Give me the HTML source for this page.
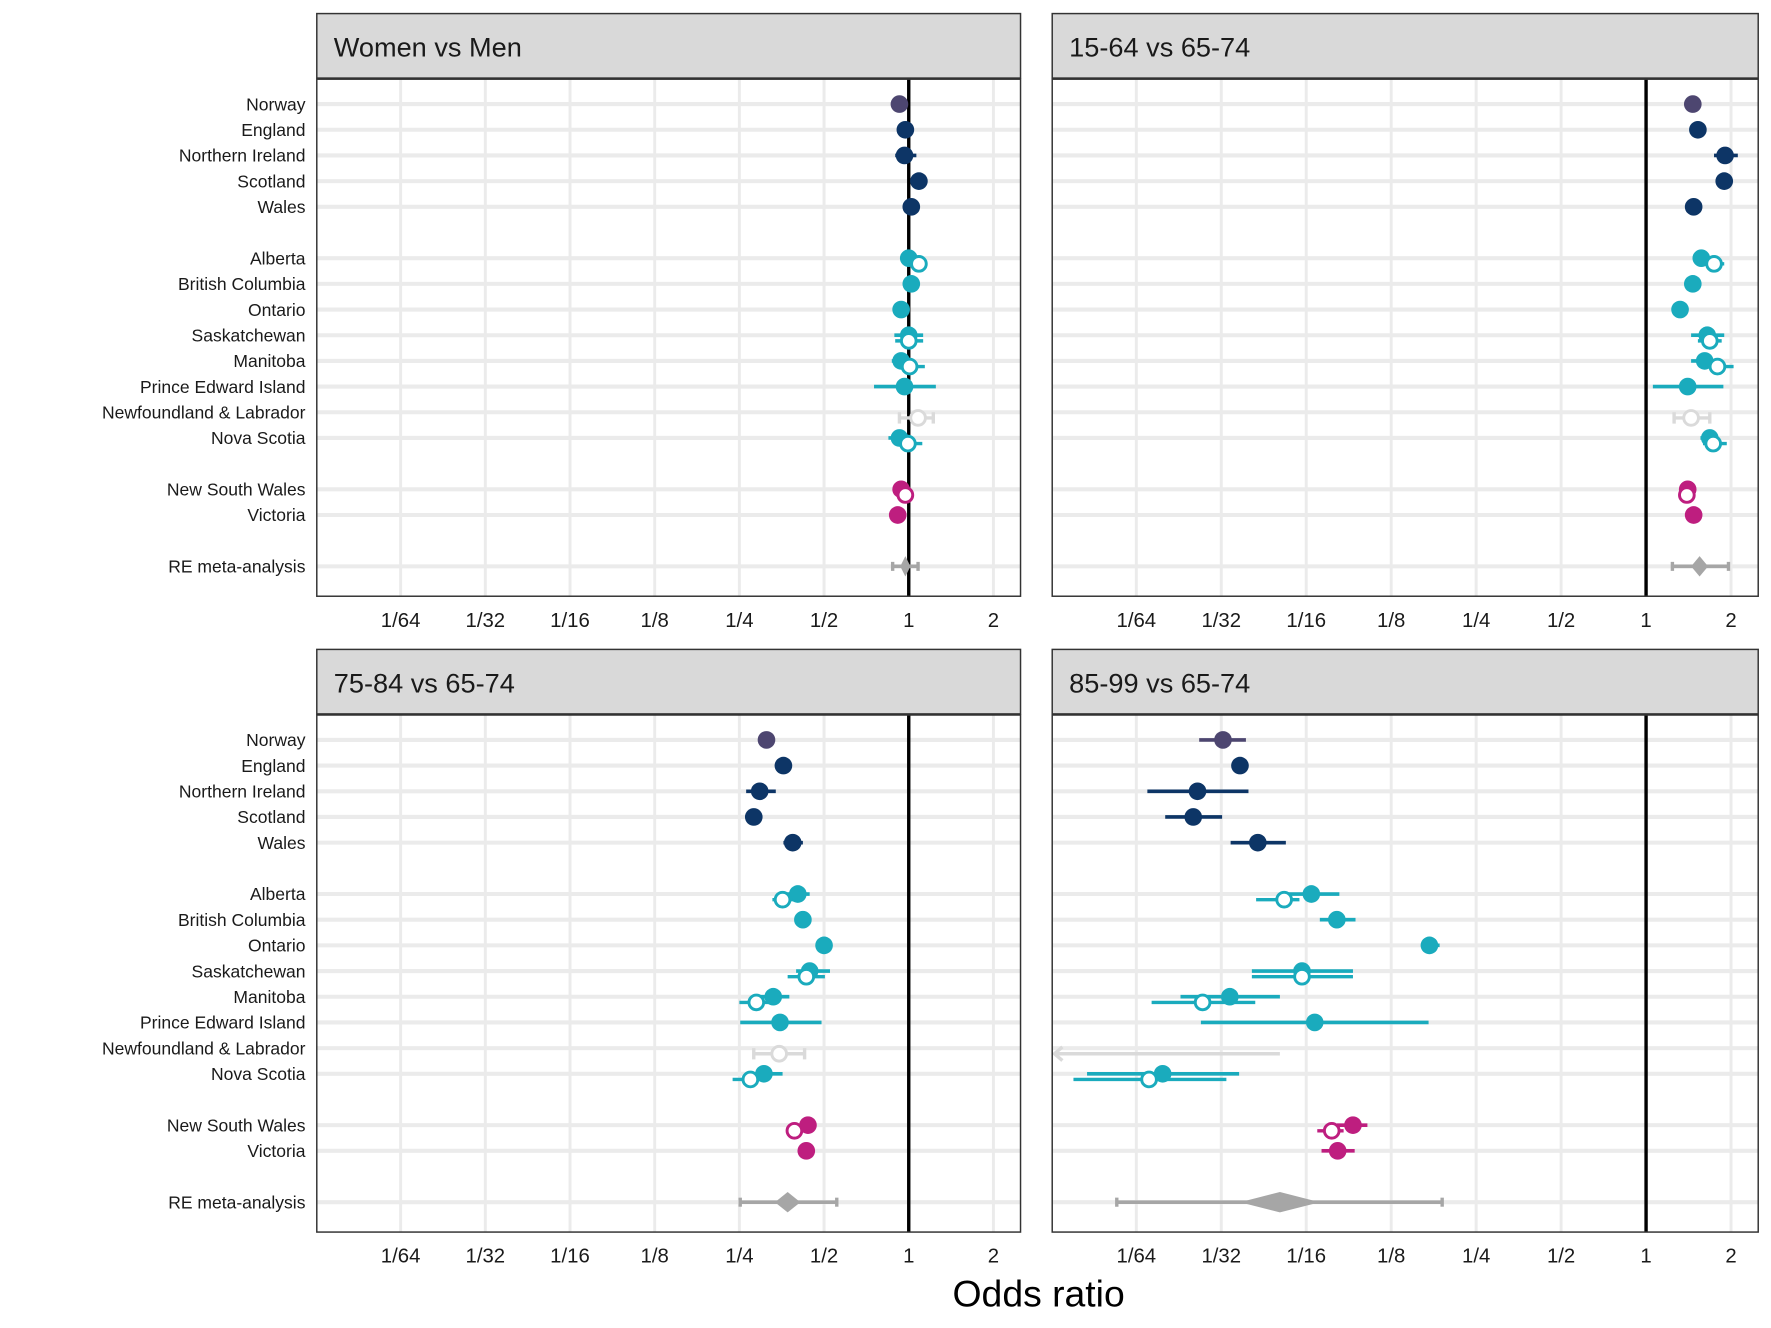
<!DOCTYPE html>
<html><head><meta charset="utf-8"><title>Odds ratio forest plot</title>
<style>html,body{margin:0;padding:0;background:#fff}svg{display:block}text{font-family:"Liberation Sans",Arial,sans-serif}</style>
</head><body>
<svg id="chart" width="1771" height="1328" viewBox="0 0 1565.3 1173.8" preserveAspectRatio="none" xmlns="http://www.w3.org/2000/svg"></svg>
<script>
const countries = ["Norway","England","Northern Ireland","Scotland","Wales","Alberta","British Columbia","Ontario","Saskatchewan","Manitoba","Prince Edward Island","Newfoundland & Labrador","Nova Scotia","New South Wales","Victoria","RE meta-analysis"];
const rowSlots = [0,1,2,3,4,6,7,8,9,10,11,12,13,15,16,18];
const groups = ["no","uk","uk","uk","uk","ca","ca","ca","ca","ca","ca","nl","ca","au","au","re"];
const tickVals = [-6,-5,-4,-3,-2,-1,0,1];
const tickLabels = ["1/64","1/32","1/16","1/8","1/4","1/2","1","2"];
const panelTitles = ["Women vs Men","15-64 vs 65-74","75-84 vs 65-74","85-99 vs 65-74"];
// log2 odds ratios; null = not shown
const estA = [-0.11,-0.04,-0.05,0.12,0.03,0.0,0.03,-0.09,0.0,-0.09,-0.05,null,-0.11,-0.09,-0.13,-0.04];
const loA  = [-0.14,-0.07,-0.16,0.09,0.0,-0.03,0.0,-0.12,-0.17,-0.2,-0.41,null,-0.24,-0.12,-0.16,-0.19];
const hiA  = [-0.08,-0.01,0.09,0.15,0.06,0.03,0.06,-0.06,0.17,0.01,0.32,null,0.01,-0.06,-0.1,0.11];
const hEstA = [null,null,null,null,null,0.12,null,null,0.0,0.01,null,0.11,-0.01,-0.04,null];
const hLoA  = [null,null,null,null,null,0.09,null,null,-0.16,-0.11,null,-0.11,-0.11,-0.07,null];
const hHiA  = [null,null,null,null,null,0.15,null,null,0.17,0.19,null,0.29,0.16,-0.01,null];
const estB = [0.55,0.61,0.93,0.92,0.56,0.65,0.55,0.4,0.72,0.69,0.49,null,0.75,0.49,0.56,0.63];
const loB  = [0.52,0.58,0.8,0.89,0.53,0.62,0.52,0.37,0.53,0.53,0.08,null,0.64,0.46,0.53,0.31];
const hiB  = [0.58,0.64,1.08,0.95,0.59,0.68,0.58,0.43,0.92,0.85,0.91,null,0.85,0.52,0.59,0.97];
const hEstB = [null,null,null,null,null,0.8,null,null,0.75,0.84,null,0.53,0.79,0.48,null];
const hLoB  = [null,null,null,null,null,0.69,null,null,0.61,0.72,null,0.33,0.67,0.45,null];
const hHiB  = [null,null,null,null,null,0.92,null,null,0.89,1.03,null,0.75,0.95,0.51,null];
const estC = [-1.68,-1.48,-1.76,-1.83,-1.37,-1.31,-1.25,-1.0,-1.17,-1.6,-1.52,null,-1.71,-1.19,-1.21,-1.43];
const loC  = [-1.71,-1.51,-1.92,-1.86,-1.48,-1.44,-1.28,-1.03,-1.33,-1.77,-1.99,null,-1.88,-1.22,-1.24,-1.99];
const hiC  = [-1.65,-1.45,-1.57,-1.8,-1.25,-1.17,-1.22,-0.97,-0.93,-1.41,-1.03,null,-1.49,-1.16,-1.18,-0.85];
const hEstC = [null,null,null,null,null,-1.49,null,null,-1.21,-1.8,null,-1.53,-1.87,-1.35,null];
const hLoC  = [null,null,null,null,null,-1.61,null,null,-1.43,-2.0,null,-1.83,-2.08,-1.38,null];
const hHiC  = [null,null,null,null,null,-1.37,null,null,-0.99,-1.59,null,-1.23,-1.67,-1.32,null];
const estD = [-4.98,-4.78,-5.28,-5.33,-4.57,-3.94,-3.64,-2.55,-4.05,-4.9,-3.9,null,-5.69,-3.45,-3.63,-4.31];
const loD  = [-5.26,-4.81,-5.87,-5.66,-4.89,-4.3,-3.84,-2.65,-4.64,-5.48,-5.24,null,-6.58,-3.64,-3.82,-6.23];
const hiD  = [-4.71,-4.75,-4.68,-4.99,-4.24,-3.61,-3.42,-2.43,-3.45,-4.31,-2.56,null,-4.79,-3.28,-3.43,-2.4];
const hEstD = [null,null,null,null,null,-4.26,null,null,-4.05,-5.22,null,-7.6,-5.85,-3.7,null];
const hLoD  = [null,null,null,null,null,-4.59,null,null,-4.64,-5.82,null,-9.0,-6.74,-3.87,null];
const hHiD  = [null,null,null,null,null,-4.08,null,null,-3.45,-4.6,null,-4.31,-4.94,-3.56,null];
const reHalf = [0.06,0.1,0.15,0.47];

const panelsData = [[estA,loA,hiA,hEstA,hLoA,hHiA],[estB,loB,hiB,hEstB,hLoB,hHiB],[estC,loC,hiC,hEstC,hLoC,hHiC],[estD,loD,hiD,hEstD,hLoD,hHiD]];
const colors = {no:"#4d4670",uk:"#0d3566",ca:"#1aabbd",au:"#be1e7f",nl:"#dadada",re:"#a6a6a6"};
const NS="http://www.w3.org/2000/svg";
const svg=document.getElementById('chart');
function mk(tag,attrs,parent){const e=document.createElementNS(NS,tag);for(const k in attrs)e.setAttribute(k,attrs[k]);(parent||svg).appendChild(e);return e;}

const panelBoxes=[{x0:280,x1:902,top:12},{x0:930,x1:1554,top:12},{x0:280,x1:902,top:574},{x0:930,x1:1554,top:574}];
const XMIN=-6.99, XMAX=1.32;

panelBoxes.forEach((pb,pi)=>{
  const g=mk('g',{});
  
  
  const stripTop=pb.top, stripBot=pb.top+57, plotTop=stripBot+1, plotBot=plotTop+457;
  const xs=v=>pb.x0+(v-XMIN)/(XMAX-XMIN)*(pb.x1-pb.x0);
  const ys=slot=>plotTop+22+slot*22.7;
  const strip=mk('rect',{x:pb.x0,y:stripTop,width:pb.x1-pb.x0,height:stripBot-stripTop,fill:'#d9d9d9',stroke:'#333','stroke-width':1.3},g);
  
  
  const st=mk('text',{x:pb.x0+15,y:stripTop+38,'font-size':24,fill:'#1a1a1a'},g);
  st.textContent=panelTitles[pi];
  
  
  mk('rect',{x:pb.x0,y:plotTop,width:pb.x1-pb.x0,height:plotBot-plotTop,fill:'#fff'},g);
  const clip=mk('clipPath',{id:'clip'+pi},g);
  mk('rect',{x:pb.x0,y:plotTop,width:pb.x1-pb.x0,height:plotBot-plotTop},clip);
  tickVals.forEach(v=>{mk('line',{x1:xs(v),x2:xs(v),y1:plotTop,y2:plotBot,stroke:'#ebebeb','stroke-width':2.6},g);});
  rowSlots.forEach(s=>{mk('line',{x1:pb.x0,x2:pb.x1,y1:ys(s),y2:ys(s),stroke:'#ebebeb','stroke-width':3.6},g);});
  mk('line',{x1:xs(0),x2:xs(0),y1:plotTop,y2:plotBot,stroke:'#000','stroke-width':3},g);
  const marks=mk('g',{'clip-path':'url(#clip'+pi+')'},g);
  const [est,lo,hi,hEst,hLo,hHi]=panelsData[pi];
  countries.forEach((c,i)=>{
    const y=ys(rowSlots[i]);const col=colors[groups[i]];
    if(groups[i]==='re'){
      const l=mk('line',{x1:xs(lo[i]),x2:xs(hi[i]),y1:y,y2:y,stroke:col,'stroke-width':3.2},marks);
      
      
      [lo[i],hi[i]].forEach(v=>mk('line',{x1:xs(v),x2:xs(v),y1:y-4,y2:y+4,stroke:col,'stroke-width':3},marks));
      const h=reHalf[pi];
      const d=mk('polygon',{points:`${xs(est[i]-h)},${y} ${xs(est[i])},${y-9} ${xs(est[i]+h)},${y} ${xs(est[i])},${y+9}`,fill:col},marks);
      
      
      return;
    }
    if(est[i]!==null){
      mk('line',{x1:xs(lo[i]),x2:xs(hi[i]),y1:y,y2:y,stroke:col,'stroke-width':3.2},marks);
      const p=mk('circle',{cx:xs(est[i]),cy:y,r:7.8,fill:col},marks);
      
      
    }
    if(hEst[i]!==null && hEst[i]!==undefined){
      const yy=y+5;
      const lx=Math.max(xs(hLo[i]),pb.x0+2);
      mk('line',{x1:lx,x2:xs(hHi[i]),y1:yy,y2:yy,stroke:col,'stroke-width':3},marks);
      if(xs(hLo[i])<pb.x0){mk('polyline',{points:`${pb.x0+9},${yy-6} ${pb.x0+2},${yy} ${pb.x0+9},${yy+6}`,fill:'none',stroke:col,'stroke-width':3},marks);}
      else if(groups[i]==='nl'){[hLo[i],hHi[i]].forEach(v=>mk('line',{x1:xs(v),x2:xs(v),y1:yy-5,y2:yy+5,stroke:col,'stroke-width':3},marks));}
      const p=mk('circle',{cx:xs(hEst[i]),cy:yy,r:6.5,fill:'#fff',stroke:col,'stroke-width':2.6},marks);
      
      
    }
  });
  mk('rect',{x:pb.x0,y:plotTop,width:pb.x1-pb.x0,height:plotBot-plotTop,fill:'none',stroke:'#333','stroke-width':1.3},g);
  tickVals.forEach((v,k)=>{
    const t=mk('text',{x:xs(v),y:plotBot+27,'font-size':18,'text-anchor':'middle',fill:'#1a1a1a'},g);
    t.textContent=tickLabels[k];
    
    
  });
  if(pi%2===0){
    countries.forEach((c,i)=>{
      const t=mk('text',{x:270,y:ys(rowSlots[i])+5.5,'font-size':15.5,'text-anchor':'end',fill:'#1a1a1a'},g);
      t.textContent=c;
      
      
    });
  }
});
const xt=mk('text',{x:918,y:1155,'font-size':33,'text-anchor':'middle',fill:'#000'});
xt.textContent='Odds ratio';


</script>
</body></html>
